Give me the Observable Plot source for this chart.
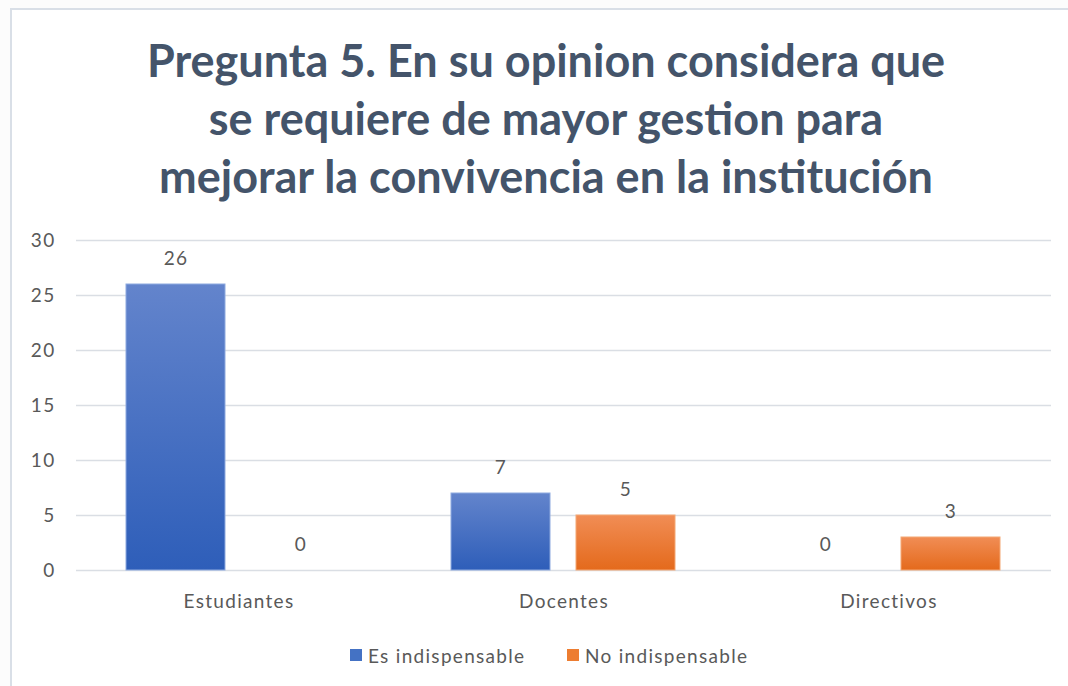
<!DOCTYPE html>
<html>
<head>
<meta charset="utf-8">
<script src="https://cdn.jsdelivr.net/npm/d3@7"></script>
<script src="https://cdn.jsdelivr.net/npm/@observablehq/plot@0.6"></script>
<style>
  html, body { margin:0; padding:0; width:1068px; height:686px; overflow:hidden; background:#fcfcfc; }
  #panel { position:absolute; left:10px; top:8px; width:1072px; height:700px; background:#fff;
           border-left:2px solid #d9dfe7; border-top:2px solid #d9dfe7; box-sizing:border-box; }
  #title { position:absolute; left:10px; width:1072px; top:31px; text-align:center;
           font-family:Lato, sans-serif; font-weight:700; font-size:45px; line-height:58px; color:#44546A; }
  #chart { position:absolute; left:0; top:220px; }
  #legend { position:absolute; top:643px; left:0; width:1068px; font-family:Lato, sans-serif; font-size:19px; letter-spacing:1.3px; color:#595959; }
  .item { position:absolute; top:0; display:flex; align-items:center; height:24px; }
  .sw { width:12px; height:12px; margin-right:6px; }
</style>
</head>
<body>
<div id="panel"></div>
<div id="title"></div>
<div id="chart"></div>
<div id="legend"></div>
<script>
const titleLines = ["Pregunta 5. En su opinion considera que", "se requiere de mayor gestion para", "mejorar la convivencia en la institución"];
const categories = ["Estudiantes", "Docentes", "Directivos"];
const series = ["Es indispensable", "No indispensable"];
const esValues = [26, 7, 0];
const noValues = [0, 5, 3];
const yTicks = [0, 5, 10, 15, 20, 25, 30];
const seriesColors = ["#4472C4", "#ED7D31"];

document.getElementById("title").innerHTML = titleLines.join("<br>");

const data = categories.flatMap((c, i) => [
  {cat: c, series: series[0], value: esValues[i]},
  {cat: c, series: series[1], value: noValues[i]}
]);

const chart = Plot.plot({
  width: 1068, height: 400,
  marginTop: 20, marginBottom: 50, marginLeft: 75, marginRight: 16,
  style: {fontFamily: "Lato, sans-serif", fontSize: "19px", letterSpacing: "1.3px", color: "#595959", background: "transparent", overflow: "visible"},
  fx: {domain: categories, padding: 0, label: null},
  x: {type: "band", domain: series, paddingInner: 0.206, paddingOuter: 0.395, axis: null},
  y: {domain: [0, 30], label: null},
  marks: [
    Plot.ruleY(yTicks, {stroke: "#dadee4", strokeWidth: 1.6}),
    Plot.axisY({ticks: yTicks, tickSize: 0, tickPadding: 21, label: null}),
    Plot.axisFx({anchor: "bottom", tickSize: 0, tickPadding: 24, label: null}),
    Plot.barY(data.filter(d => d.series === series[0]), {fx: "cat", x: "series", y: "value", fill: "url(#gBlue)", stroke: "#8eaadf", strokeWidth: 1}),
    Plot.barY(data.filter(d => d.series === series[1]), {fx: "cat", x: "series", y: "value", fill: "url(#gOrange)", stroke: "#f4a874", strokeWidth: 1}),
    Plot.text(data, {fx: "cat", x: "series", y: "value", text: d => String(d.value), dy: -26, fill: "#595959"})
  ]
});

const ns = "http://www.w3.org/2000/svg";
const defs = document.createElementNS(ns, "defs");
function grad(id, top, bottom) {
  const g = document.createElementNS(ns, "linearGradient");
  g.setAttribute("id", id); g.setAttribute("x1", "0"); g.setAttribute("y1", "0"); g.setAttribute("x2", "0"); g.setAttribute("y2", "1");
  [[0, top], [1, bottom]].forEach(([o, c]) => {
    const s = document.createElementNS(ns, "stop");
    s.setAttribute("offset", o); s.setAttribute("stop-color", c);
    g.appendChild(s);
  });
  defs.appendChild(g);
}
grad("gBlue", "#6384cc", "#2e5eb9");
grad("gOrange", "#f18d55", "#e46a1c");
chart.insertBefore(defs, chart.firstChild);
document.getElementById("chart").appendChild(chart);

const legend = document.getElementById("legend");
const legendX = [350, 567];
series.forEach((s, i) => {
  const it = document.createElement("div");
  it.className = "item";
  it.style.left = legendX[i] + "px";
  it.innerHTML = `<span class="sw" style="background:${seriesColors[i]}"></span><span>${s}</span>`;
  legend.appendChild(it);
});
</script>
</body>
</html>
